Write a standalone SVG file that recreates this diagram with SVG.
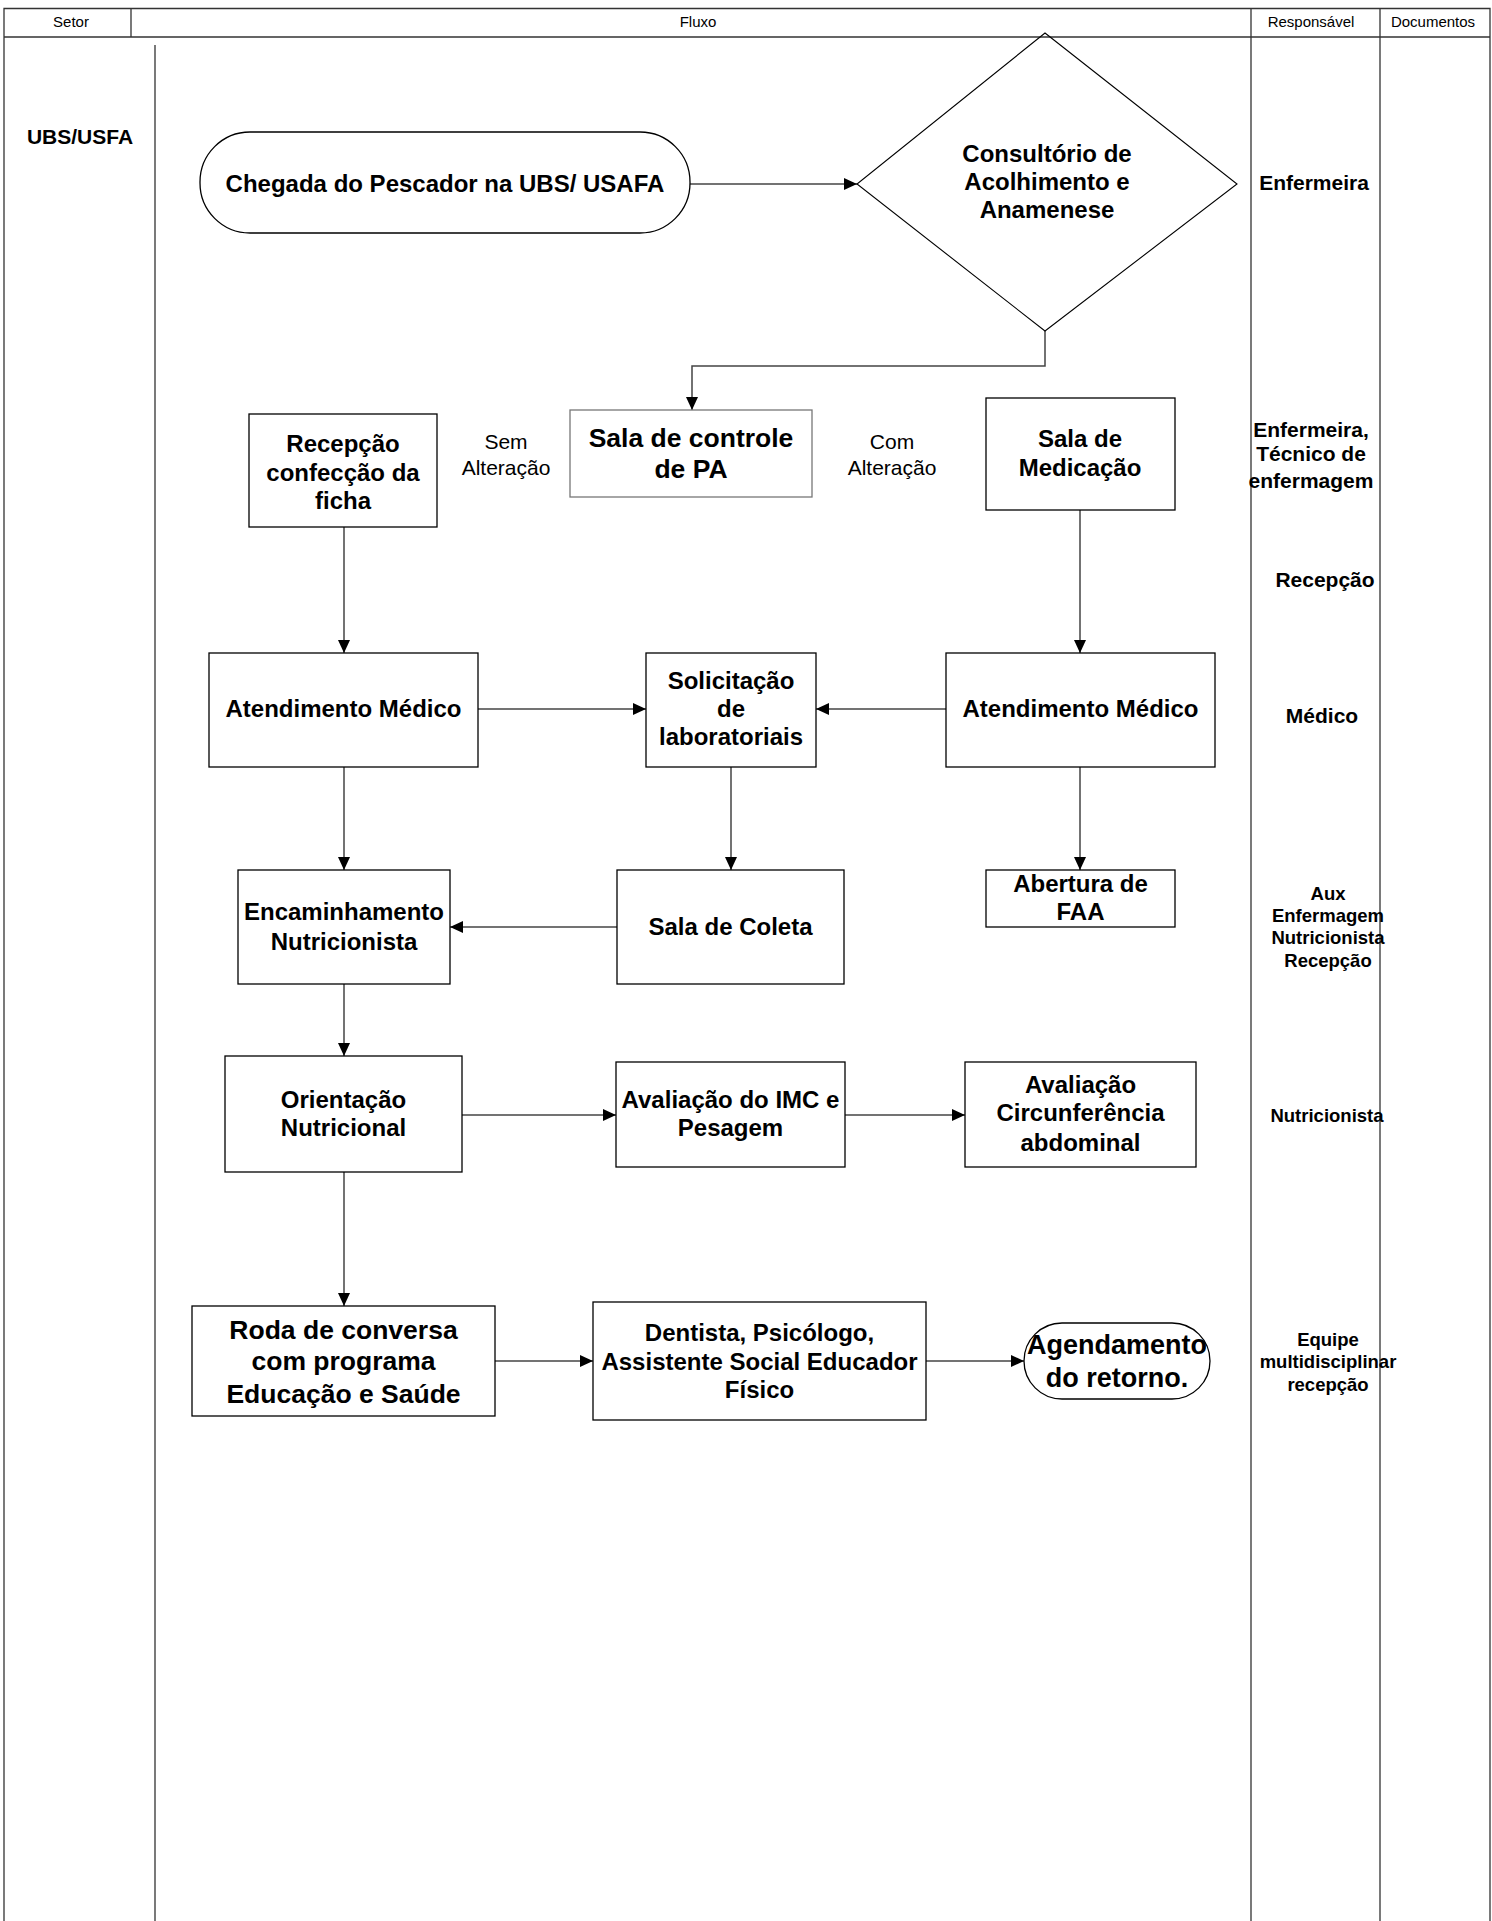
<svg xmlns="http://www.w3.org/2000/svg" width="1492" height="1921" viewBox="0 0 1492 1921">
<style>
.grid{stroke:#333;stroke-width:1.3;fill:none}
.box{fill:#fff;stroke:#000;stroke-width:1.3}
.gbox{fill:#fff;stroke:#777;stroke-width:1.3}
.t{font-family:"Liberation Sans",Arial,sans-serif;font-weight:bold;font-size:24px;text-anchor:middle;fill:#000}
.tl{font-size:26.5px}
.r{font-family:"Liberation Sans",Arial,sans-serif;font-size:21px;text-anchor:middle;fill:#000}
.h{font-family:"Liberation Sans",Arial,sans-serif;font-size:15px;text-anchor:middle;fill:#000}
.s{font-size:21px}
.xs{font-size:18.5px}
.c{stroke:#444;stroke-width:1.5;fill:none;marker-end:url(#ah)}
</style>
<defs>
<marker id="ah" viewBox="0 0 13 12" refX="13" refY="6" markerWidth="13" markerHeight="12" markerUnits="userSpaceOnUse" orient="auto">
<path d="M0,0 L13,6 L0,12 z" fill="#000"/>
</marker>
</defs>
<rect width="1492" height="1921" fill="#fff"/>
<g id="table">
<path class="grid" d="M4 1921 V8.5 H1490 V1921 M4 37 H1490 M131 8.5 V37 M155 45 V1921 M1251 8.5 V1921 M1380 8.5 V1921"/>
<text class="h" x="71" y="27.4">Setor</text>
<text class="h" x="698" y="27.4">Fluxo</text>
<text class="h" x="1311" y="27.4">Responsável</text>
<text class="h" x="1433" y="27.4">Documentos</text>
<text class="t s" x="80" y="143.5">UBS/USFA</text>
</g>
<g id="responsaveis">
<text class="t s" x="1314" y="189.5">Enfermeira</text>
<text class="t s" x="1311" y="436.5">Enfermeira,</text>
<text class="t s" x="1311" y="460.5">Técnico de</text>
<text class="t s" x="1311" y="487.5">enfermagem</text>
<text class="t s" x="1325" y="586.5">Recepção</text>
<text class="t s" x="1322" y="722.5">Médico</text>
<text class="t xs" x="1328" y="899.5">Aux</text>
<text class="t xs" x="1328" y="921.5">Enfermagem</text>
<text class="t xs" x="1328" y="943.5">Nutricionista</text>
<text class="t xs" x="1328" y="966.5">Recepção</text>
<text class="t xs" x="1327" y="1121.5">Nutricionista</text>
<text class="t xs" x="1328" y="1345.5">Equipe</text>
<text class="t xs" x="1328" y="1367.5">multidisciplinar</text>
<text class="t xs" x="1328" y="1390.5">recepção</text>
</g>
<g id="connectors">
<path class="c" d="M690 184 H857"/>
<path class="c" d="M1045 331 V366 H692 V410"/>
<path class="c" d="M344 527 V653"/>
<path class="c" d="M1080 510 V653"/>
<path class="c" d="M478 709 H646"/>
<path class="c" d="M946 709 H816"/>
<path class="c" d="M344 767 V870"/>
<path class="c" d="M731 767 V870"/>
<path class="c" d="M1080 767 V870"/>
<path class="c" d="M617 927 H450"/>
<path class="c" d="M344 984 V1056"/>
<path class="c" d="M462 1115 H616"/>
<path class="c" d="M845 1115 H965"/>
<path class="c" d="M344 1172 V1306"/>
<path class="c" d="M495 1361 H593"/>
<path class="c" d="M926 1361 H1024"/>
</g>
<g id="start">
<rect class="box" x="200" y="132" width="490" height="101" rx="50" ry="50"/>
<text class="t" x="445" y="191.6">Chegada do Pescador na UBS/ USAFA</text>
</g>
<g id="acolhimento">
<path d="M1045 33 L1237 184 L1045 331 L857 184 Z" fill="none" stroke="#000" stroke-width="1.1"/>
<text class="t" x="1047" y="161.6">Consultório de</text>
<text class="t" x="1047" y="189.6">Acolhimento e</text>
<text class="t" x="1047" y="217.6">Anamenese</text>
</g>
<g id="recepcao">
<rect class="box" x="249" y="414" width="188" height="113"/>
<text class="t" x="343" y="451.6">Recepção</text>
<text class="t" x="343" y="480.6">confecção da</text>
<text class="t" x="343" y="508.6">ficha</text>
</g>
<g id="sem-alteracao">
<text class="r" x="506" y="448.5">Sem</text>
<text class="r" x="506" y="474.5">Alteração</text>
</g>
<g id="sala-pa">
<rect class="gbox" x="570" y="410" width="242" height="87"/>
<text class="t tl" x="691" y="446.5">Sala de controle</text>
<text class="t tl" x="691" y="477.5">de PA</text>
</g>
<g id="com-alteracao">
<text class="r" x="892" y="448.5">Com</text>
<text class="r" x="892" y="474.5">Alteração</text>
</g>
<g id="sala-medicacao">
<rect class="box" x="986" y="398" width="189" height="112"/>
<text class="t" x="1080" y="446.6">Sala de</text>
<text class="t" x="1080" y="475.6">Medicação</text>
</g>
<g id="atendimento-1">
<rect class="box" x="209" y="653" width="269" height="114"/>
<text class="t" x="343.5" y="716.6">Atendimento Médico</text>
</g>
<g id="solicitacao">
<rect class="box" x="646" y="653" width="170" height="114"/>
<text class="t" x="731" y="688.6">Solicitação</text>
<text class="t" x="731" y="716.6">de</text>
<text class="t" x="731" y="744.6">laboratoriais</text>
</g>
<g id="atendimento-2">
<rect class="box" x="946" y="653" width="269" height="114"/>
<text class="t" x="1080.5" y="716.6">Atendimento Médico</text>
</g>
<g id="encaminhamento">
<rect class="box" x="238" y="870" width="212" height="114"/>
<text class="t" x="344" y="919.6">Encaminhamento</text>
<text class="t" x="344" y="949.6">Nutricionista</text>
</g>
<g id="coleta">
<rect class="box" x="617" y="870" width="227" height="114"/>
<text class="t" x="730.5" y="934.6">Sala de Coleta</text>
</g>
<g id="faa">
<rect class="box" x="986" y="870" width="189" height="57"/>
<text class="t" x="1080.5" y="891.6">Abertura de</text>
<text class="t" x="1080.5" y="919.6">FAA</text>
</g>
<g id="orientacao">
<rect class="box" x="225" y="1056" width="237" height="116"/>
<text class="t" x="343.5" y="1107.6">Orientação</text>
<text class="t" x="343.5" y="1135.6">Nutricional</text>
</g>
<g id="imc">
<rect class="box" x="616" y="1062" width="229" height="105"/>
<text class="t" x="730.5" y="1107.6">Avaliação do IMC e</text>
<text class="t" x="730.5" y="1135.6">Pesagem</text>
</g>
<g id="circunferencia">
<rect class="box" x="965" y="1062" width="231" height="105"/>
<text class="t" x="1080.5" y="1092.6">Avaliação</text>
<text class="t" x="1080.5" y="1120.6">Circunferência</text>
<text class="t" x="1080.5" y="1150.6">abdominal</text>
</g>
<g id="roda">
<rect class="box" x="192" y="1306" width="303" height="110"/>
<text class="t tl" x="343.5" y="1338.5">Roda de conversa</text>
<text class="t tl" x="343.5" y="1369.5">com programa</text>
<text class="t tl" x="343.5" y="1402.5">Educação e Saúde</text>
</g>
<g id="dentista">
<rect class="box" x="593" y="1302" width="333" height="118"/>
<text class="t" x="759.5" y="1340.6">Dentista, Psicólogo,</text>
<text class="t" x="759.5" y="1369.6">Assistente Social Educador</text>
<text class="t" x="759.5" y="1397.6">Físico</text>
</g>
<g id="agendamento">
<rect class="box" x="1024" y="1323" width="186" height="76" rx="38" ry="38"/>
<text class="t" x="1117" y="1353.7" style="font-size:27px">Agendamento</text>
<text class="t" x="1117" y="1386.7" style="font-size:27px">do retorno.</text>
</g>
</svg>
